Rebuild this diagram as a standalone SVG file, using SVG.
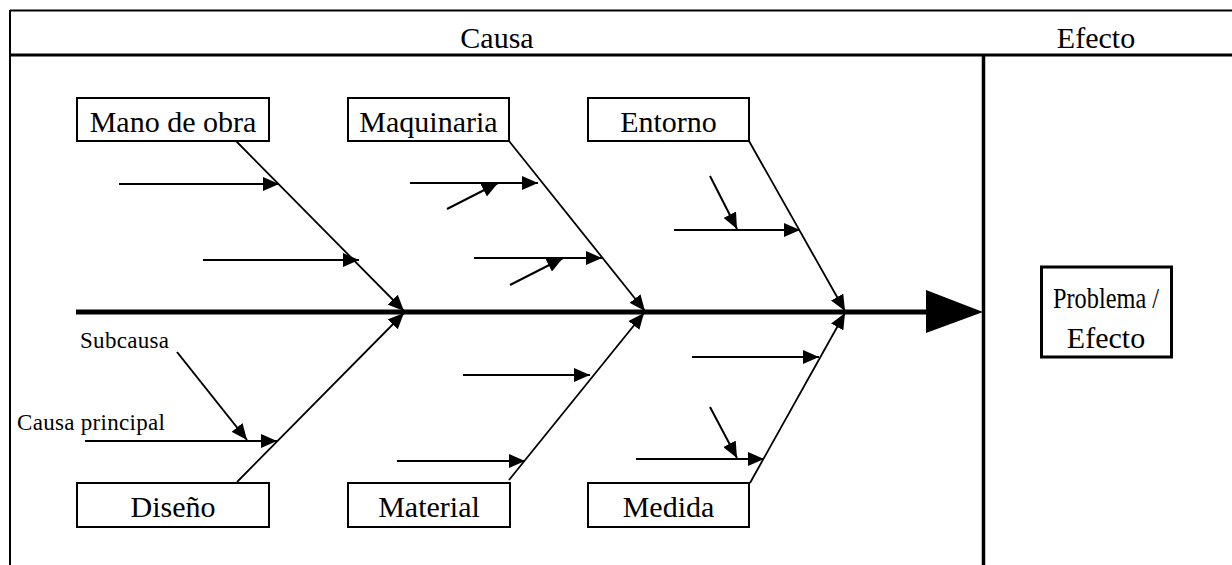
<svg xmlns="http://www.w3.org/2000/svg" width="1232" height="565" viewBox="0 0 1232 565">
  <style>
    .frame { stroke: #000; fill: none; }
    .box { fill: #fff; stroke: #000; stroke-width: 2; }
    .big { font-family: "Liberation Serif", "Times New Roman", serif; font-size: 30px; fill: #000; text-anchor: middle; }
    .small { font-family: "Liberation Serif", "Times New Roman", serif; font-size: 23px; fill: #000; }
    .bone { stroke: #000; stroke-width: 1.8; fill: none; marker-end: url(#head); }
    .cause { stroke: #000; stroke-width: 2; fill: none; marker-end: url(#head); }
  </style>
  <defs>
    <marker id="head" markerUnits="userSpaceOnUse" markerWidth="17" markerHeight="14" refX="16" refY="7" orient="auto">
      <path d="M0,0 L16,7 L0,14 z" fill="#000"/>
    </marker>
  </defs>
  <rect width="1232" height="565" fill="#fff"/>

  <!-- table frame -->
  <g id="frame">
    <line class="frame" x1="10" y1="10.5" x2="1232" y2="10.5" stroke-width="2"/>
    <line class="frame" x1="10" y1="55" x2="1232" y2="55" stroke-width="3"/>
    <line class="frame" x1="10" y1="10" x2="10" y2="565" stroke-width="2"/>
    <line class="frame" x1="983.5" y1="55" x2="983.5" y2="565" stroke-width="3.5"/>
    <text class="big" x="497" y="48">Causa</text>
    <text class="big" x="1096" y="48">Efecto</text>
  </g>

  <!-- cause categories -->
  <g id="mano-de-obra"><rect class="box" x="77" y="98" width="192" height="43"/><text class="big" x="173" y="132">Mano de obra</text></g>
  <g id="maquinaria"><rect class="box" x="348" y="98" width="161" height="43"/><text class="big" x="428.5" y="132">Maquinaria</text></g>
  <g id="entorno"><rect class="box" x="588" y="98" width="161" height="43"/><text class="big" x="668.5" y="132">Entorno</text></g>
  <g id="diseno"><rect class="box" x="77" y="483" width="192" height="44"/><text class="big" x="173" y="517">Diseño</text></g>
  <g id="material"><rect class="box" x="348" y="483" width="162" height="44"/><text class="big" x="429" y="517">Material</text></g>
  <g id="medida"><rect class="box" x="588" y="483" width="161" height="44"/><text class="big" x="668.5" y="517">Medida</text></g>

  <!-- effect -->
  <g id="problema">
    <rect x="1041.5" y="267" width="130" height="90" fill="#fff" stroke="#000" stroke-width="3"/>
    <text class="big" x="1106" y="308" textLength="106" lengthAdjust="spacingAndGlyphs">Problema /</text>
    <text class="big" x="1106" y="348">Efecto</text>
  </g>

  <!-- legend labels -->
  <g id="labels">
    <text class="small" x="80" y="348" letter-spacing="0.3">Subcausa</text>
    <text class="small" x="17" y="430" letter-spacing="0.3">Causa principal</text>
  </g>

  <g id="connectors">
    <!-- spine -->
    <line x1="76" y1="312" x2="930" y2="312" stroke="#000" stroke-width="5"/>
    <path d="M926,290 L983,312 L926,333 z" fill="#000"/>

    <!-- main bones -->
    <line class="bone" x1="236" y1="141" x2="404" y2="311"/>
    <line class="bone" x1="509" y1="141" x2="645" y2="311"/>
    <line class="bone" x1="749" y1="141" x2="845" y2="311"/>
    <line class="bone" x1="237" y1="482" x2="404" y2="313"/>
    <line class="bone" x1="509" y1="480" x2="644" y2="313"/>
    <line class="bone" x1="750" y1="483" x2="845" y2="313"/>

    <!-- causes on Mano de obra -->
    <line class="cause" x1="119" y1="184" x2="279" y2="184"/>
    <line class="cause" x1="203" y1="260" x2="359" y2="260"/>

    <!-- causes on Maquinaria -->
    <line class="cause" x1="410" y1="183" x2="538" y2="183"/>
    <line class="cause" x1="447" y1="209" x2="498" y2="183"/>
    <line class="cause" x1="474" y1="258" x2="602" y2="258"/>
    <line class="cause" x1="510" y1="285" x2="563" y2="258"/>

    <!-- causes on Entorno -->
    <line class="cause" x1="674" y1="230" x2="800" y2="230"/>
    <line class="cause" x1="710" y1="176" x2="737" y2="229"/>

    <!-- causes on Diseño -->
    <line class="cause" x1="85" y1="441" x2="277" y2="441"/>
    <line class="cause" x1="177" y1="352" x2="247" y2="440"/>

    <!-- causes on Material -->
    <line class="cause" x1="463" y1="375" x2="590" y2="375"/>
    <line class="cause" x1="397" y1="461" x2="525" y2="461"/>

    <!-- causes on Medida -->
    <line class="cause" x1="692" y1="357" x2="819" y2="357"/>
    <line class="cause" x1="636" y1="459" x2="764" y2="459"/>
    <line class="cause" x1="710" y1="407" x2="737" y2="458"/>
  </g>
</svg>
